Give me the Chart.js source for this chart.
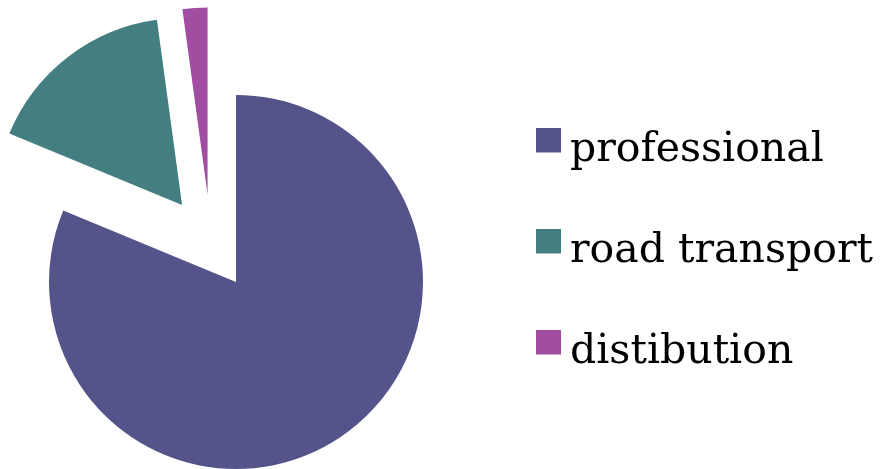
<!DOCTYPE html>
<html>
<head>
<meta charset="utf-8">
<script src="https://cdn.jsdelivr.net/npm/chart.js@4/dist/chart.umd.min.js"></script>
<style>
  html, body { margin: 0; padding: 0; background: #ffffff; overflow: hidden; width: 883px; height: 469px; }
  #wrap { width: 903px; height: 500px; position: absolute; left: -20px; top: 0; }
</style>
</head>
<body>
<div id="wrap"><canvas id="c"></canvas></div>
<script>
// ---- data ----
const categories = ['professional', 'road transport', 'distibution'];
const shares = [81.25, 16.6, 2.15];

// ---- styling ----
const colors = ['#54548A', '#437F81', '#A14DA1'];
const explodeDistance = [0, 94, 92];      // px, how far each slice is pulled out
const explodeDirection = [null, 325, 342]; // degrees clockwise from 12 o'clock (null = slice middle)

const CW = 903, CH = 500, SHIFT_X = 20;
const FONT_SIZE = 41;
const FONT_FAMILY = '"DejaVu Serif", serif';
const LABEL_PAD = 60;
const SW = 25;

const m = document.createElement('canvas').getContext('2d');
m.font = FONT_SIZE + 'px ' + FONT_FAMILY;
const maxTextW = Math.max(...categories.map(t => m.measureText(t).width));

const itemX = 546.5 + SHIFT_X;
const legendLeft = itemX - LABEL_PAD;
const legendWidth = LABEL_PAD + 3 + FONT_SIZE / 2 + maxTextW;
const padRight = CW - legendLeft - legendWidth - 10;
const pieCX = 236 + SHIFT_X, pieCY = 282;
const padLeft = 2 * pieCX - legendLeft;
const padTop = 129.5 - LABEL_PAD;
const padBottom = padTop + CH - 2 * pieCY;

function swatch(color) {
  const cv = document.createElement('canvas');
  cv.width = SW; cv.height = 45;
  const g = cv.getContext('2d');
  g.fillStyle = color;
  g.fillRect(0, 0, SW, SW);
  return cv;
}
const swatches = colors.map(swatch);

const explodePlugin = {
  id: 'explode',
  afterDatasetUpdate(chart, args) {
    args.meta.data.forEach((arc, i) => {
      const d = explodeDistance[i];
      if (!d) return;
      const ang = explodeDirection[i] != null
        ? (explodeDirection[i] - 90) * Math.PI / 180
        : (arc.startAngle + arc.endAngle) / 2;
      arc.x += Math.cos(ang) * d;
      arc.y += Math.sin(ang) * d;
    });
  }
};

new Chart(document.getElementById('c'), {
  type: 'pie',
  data: {
    labels: categories,
    datasets: [{
      data: shares,
      backgroundColor: colors,
      borderWidth: 0,
      offset: 0,
      hoverOffset: 0
    }]
  },
  plugins: [explodePlugin],
  options: {
    responsive: true,
    maintainAspectRatio: false,
    animation: false,
    events: [],
    radius: 187,
    layout: { padding: { left: padLeft, right: padRight, top: padTop, bottom: padBottom } },
    plugins: {
      tooltip: { enabled: false },
      legend: {
        position: 'right',
        align: 'start',
        labels: {
          usePointStyle: true,
          boxWidth: 3,
          padding: LABEL_PAD,
          color: '#000000',
          font: { size: FONT_SIZE, family: FONT_FAMILY },
          generateLabels: () => categories.map((t, i) => ({
            text: t,
            fillStyle: colors[i],
            strokeStyle: colors[i],
            lineWidth: 0,
            pointStyle: swatches[i],
            fontColor: '#000000',
            hidden: false,
            index: i
          }))
        }
      }
    }
  }
});
</script>
</body>
</html>
